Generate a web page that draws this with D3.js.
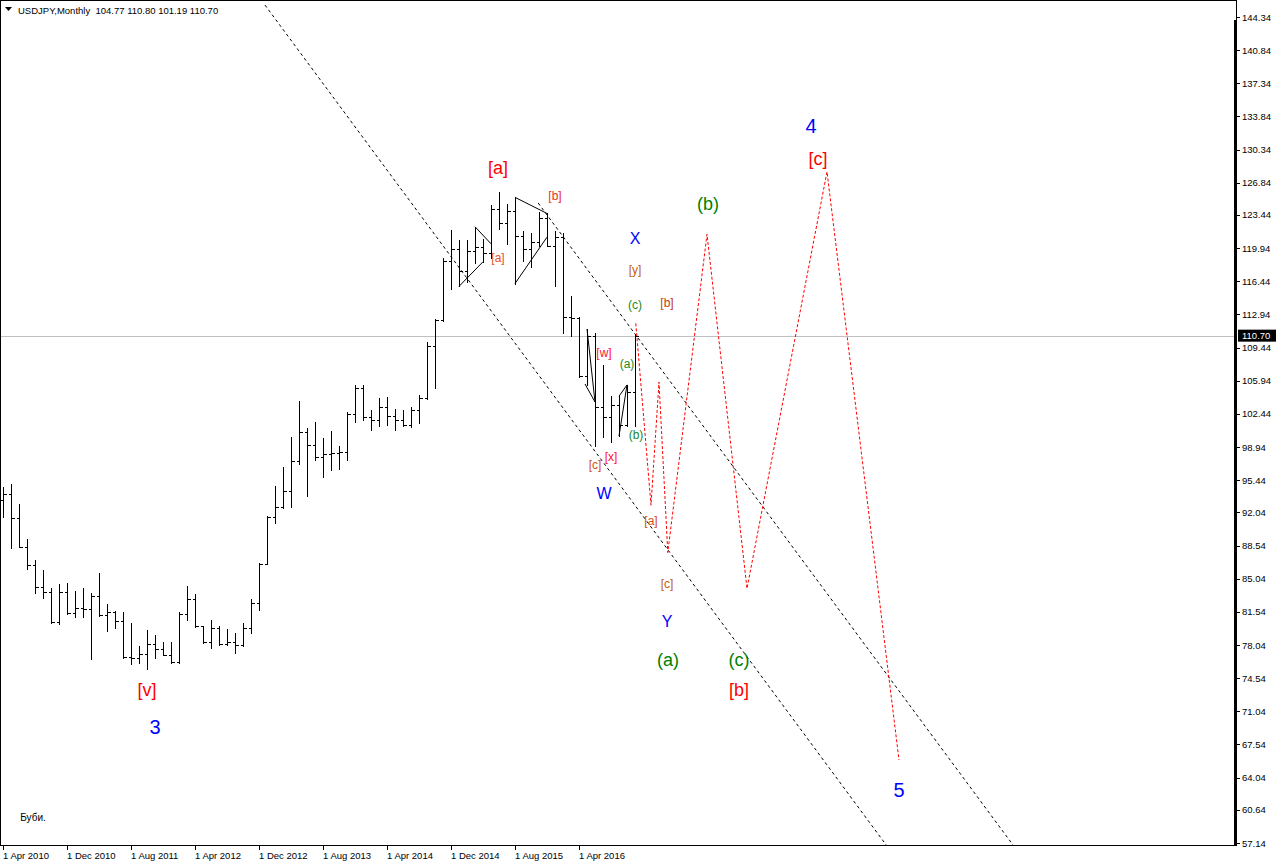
<!DOCTYPE html>
<html><head><meta charset="utf-8">
<script src="https://cdn.jsdelivr.net/npm/d3@7/dist/d3.min.js"></script>
<style>body{margin:0;background:#fff;overflow:hidden}</style>
</head><body><svg id="c" width="1276" height="866"></svg>
<script>
// ---- data (month index 0 = Apr 2010) ----
const symbol = "USDJPY,Monthly";
const headerValues = ["104.77", "110.80", "101.19", "110.70"];
const barOpen = [93.4,94.0,91.4,88.4,86.5,84.2,83.6,80.5,83.6,81.4,82.0,81.8,83.2,81.2,81.5,80.6,76.8,76.7,77.1,78.2,77.6,77.0,76.2,81.3,82.9,80.0,78.4,79.8,78.1,78.4,78.0,79.8,82.5,86.6,91.6,92.6,94.3,97.5,100.5,99.2,97.9,98.2,98.3,98.4,102.4,105.2,102.1,101.8,103.2,102.2,101.8,101.3,102.8,104.1,109.6,112.3,118.6,119.8,117.5,119.6,120.1,119.4,124.1,122.6,123.9,121.2,119.9,120.6,123.1,120.2,121.1,112.7,112.6,106.4,110.7,103.2,102.1,103.4,101.3,104.77];
const barHigh = [94.7,95.0,92.9,89.2,87.0,86.0,84.1,84.5,84.6,83.7,84.1,83.5,85.6,82.4,81.6,81.5,80.4,77.9,79.6,79.1,78.4,78.4,81.5,84.3,83.4,80.0,80.7,80.0,79.7,79.3,80.4,82.9,86.7,91.7,94.8,96.8,100.0,103.8,100.9,101.6,99.9,100.6,99.0,102.6,105.5,105.5,102.9,104.1,104.2,103.0,102.9,103.2,104.4,110.0,112.5,118.9,121.9,120.8,120.8,122.2,120.9,124.5,125.9,124.6,125.3,121.7,121.5,123.8,123.6,121.7,121.5,114.9,112.7,111.4,111.0,107.6,104.3,104.3,105.5,110.80];
const barLow = [91.6,88.3,88.4,86.1,83.5,83.0,80.4,80.3,81.3,81.0,81.0,76.6,81.1,79.5,79.8,76.7,76.0,76.1,75.5,76.7,77.0,76.1,76.1,80.7,79.9,78.3,77.7,78.0,78.0,77.2,77.9,79.3,81.7,86.6,90.9,92.5,92.6,97.2,93.8,97.6,95.8,96.5,96.6,97.6,101.6,101.8,100.7,101.2,101.3,100.7,101.2,101.1,101.5,104.0,105.2,112.2,115.6,115.9,116.4,118.4,118.5,118.9,122.0,120.4,116.2,118.6,118.0,120.2,120.2,115.9,111.0,110.7,106.3,105.5,99.0,100.0,99.5,100.1,101.2,101.19];
const barClose = [94.0,91.4,88.4,86.5,84.2,83.6,80.5,83.6,81.4,82.0,81.8,83.2,81.2,81.5,80.6,76.8,76.7,77.1,78.2,77.6,77.0,76.2,81.3,82.9,80.0,78.4,79.8,78.1,78.4,78.0,79.8,82.5,86.6,91.6,92.6,94.3,97.5,100.5,99.2,97.9,98.2,98.3,98.4,102.4,105.2,102.1,101.8,103.2,102.2,101.8,101.3,102.8,104.1,109.6,112.3,118.6,119.8,117.5,119.6,120.1,119.4,124.1,122.6,123.9,121.2,119.9,120.6,123.1,120.2,121.1,112.7,112.6,106.4,110.7,103.2,102.1,103.4,101.3,104.8,110.70];
const currentPrice = 110.70;
const priceTicks = [144.34,140.84,137.34,133.84,130.34,126.84,123.44,119.94,116.44,112.94,109.44,105.94,102.44,98.94,95.44,92.04,88.54,85.04,81.54,78.04,74.54,71.04,67.54,64.04,60.64,57.14];
const timeTickLabels = ["1 Apr 2010","1 Dec 2010","1 Aug 2011","1 Apr 2012","1 Dec 2012","1 Aug 2013","1 Apr 2014","1 Dec 2014","1 Aug 2015","1 Apr 2016"];
const timeTickIndex = [0,8,16,24,32,40,48,56,64,72];
// channel (dashed black) lines: [index, price] pairs
const channelLines = [
  [[32.75,145.6],[110.4,56.93]],
  [[66.9,124.7],[126.25,56.93]]
];
// solid black markup segments
const markupLines = [
  [[57,115.9],[60,118.5]],
  [[59,122.2],[61,120.4]],
  [[64,125.3],[68,123.6]],
  [[64,116.2],[68,121.1]],
  [[73,111.4],[74,103.7]],
  [[72.75,105.6],[74,103.7]],
  [[77,104.3],[78,105.5]],
  [[77,100.1],[78,105.5]]
];
// projected path (red dashed)
const projection = [[79.1,112.0],[81,92.8],[82,105.8],[83.1,87.8],[88,121.4],[93,84.0],[103,128.0],[112,65.9]];
// wave labels: text, index, price, size, colour
const waveText  = ["[a]","[b]","[a]","X","[y]","(c)","[b]","[w]","(a)","(b)","[c]","[x]","W","[a]","[c]","Y","(a)","(c)","[b]","(b)","4","[c]","5","[v]","3"];
const waveIndex = [61.875,69,61.875,79,79,79,83,75.125,78,79.125,74,76,75.125,81,83,83,83.125,92,92,88.125,101,101.875,112,18,19];
const wavePrice = [128.4,125.45,118.9,121.0,117.6,113.9,114.15,108.9,107.7,100.2,97.05,97.9,94.0,91.15,84.5,80.5,76.45,76.45,73.3,124.6,132.85,129.35,62.75,73.3,69.4];
const waveSize  = [18,12,12,16,12,12,12,12,12,12,12,12,16,12,12,16,18,18,18,18,20,18,20,18,20];
const waveColor = ["#ff0000","#e8301c","#e8501c","#0000ff","#c06010","#1a8a1a","#c04010","#ff1030","#1a8a1a","#1a8a1a","#d05010","#ff1030","#0000ff","#d05010","#c06010","#0000ff","#008000","#008000","#ff0000","#008000","#0000ff","#ff0000","#0000ff","#ff0000","#0000ff"];
const noteText = "Буби.";
const notePos = [3.75, 59.8];

// ---- drawing ----
const plotR = 1236, plotB = 845;
const svg = d3.select("#c");
const font = "'Liberation Sans', Arial, sans-serif";
const fs = "9.5px";
const x = d3.scaleLinear().domain([0, 1]).range([3, 11]);
const y = d3.scaleLinear().domain([57.14, 144.34]).range([843, 17]);

svg.append("defs").append("clipPath").attr("id","clip")
  .append("rect").attr("x",0).attr("y",0).attr("width",plotR).attr("height",plotB);
const plot = svg.append("g").attr("clip-path","url(#clip)");

// current price line
plot.append("line").attr("x1",0).attr("x2",plotR)
  .attr("y1",Math.round(y(currentPrice))+0.5).attr("y2",Math.round(y(currentPrice))+0.5)
  .attr("stroke","#c0c0c0").attr("stroke-width",1);

// channel lines
const line = d3.line().x(d => x(d[0])).y(d => y(d[1]));
plot.selectAll("path.chan").data(channelLines).join("path").attr("class","chan")
  .attr("d", line).attr("fill","none").attr("stroke","#000").attr("stroke-width",1)
  .attr("stroke-dasharray","3,3");

// bars
const idx = d3.range(barOpen.length);
const px = i => Math.round(x(i)) + 0.5;
const py = v => Math.round(y(v)) + 0.5;
const bars = plot.append("g").attr("stroke","#000").attr("stroke-width",1).attr("shape-rendering","crispEdges");
bars.selectAll("line.hl").data(idx).join("line").attr("class","hl")
  .attr("x1", px).attr("x2", px)
  .attr("y1", i => Math.round(y(barHigh[i]))).attr("y2", i => Math.round(y(barLow[i]))+1);
bars.selectAll("line.op").data(idx).join("line").attr("class","op")
  .attr("x1", i => px(i)-3).attr("x2", i => px(i))
  .attr("y1", i => py(barOpen[i])).attr("y2", i => py(barOpen[i]));
bars.selectAll("line.cl").data(idx).join("line").attr("class","cl")
  .attr("x1", i => px(i)).attr("x2", i => px(i)+3)
  .attr("y1", i => py(barClose[i])).attr("y2", i => py(barClose[i]));

// markup segments
plot.selectAll("path.mk").data(markupLines).join("path").attr("class","mk")
  .attr("d", line).attr("fill","none").attr("stroke","#000").attr("stroke-width",1);

// projection
plot.append("path").datum(projection).attr("d", line).attr("fill","none")
  .attr("stroke","#ff0000").attr("stroke-width",1).attr("stroke-dasharray","3,2");

// wave labels
plot.selectAll("text.wv").data(waveText).join("text").attr("class","wv")
  .attr("x", (d,i) => x(waveIndex[i])).attr("y", (d,i) => y(wavePrice[i]))
  .attr("text-anchor","middle").attr("dominant-baseline","central")
  .attr("font-family", font).attr("font-size", (d,i) => waveSize[i]+"px")
  .attr("fill", (d,i) => waveColor[i]).text(d => d);

plot.append("text").attr("x", x(notePos[0])).attr("y", y(notePos[1]))
  .attr("text-anchor","middle").attr("dominant-baseline","central")
  .attr("font-family", font).attr("font-size","10px").attr("fill","#000").text(noteText);

// frame
svg.append("rect").attr("x",0.5).attr("y",0.5).attr("width",plotR).attr("height",plotB)
  .attr("fill","none").attr("stroke","#000").attr("stroke-width",1);
svg.append("rect").attr("x",plotR-2).attr("y",20).attr("width",3).attr("height",plotB-20).attr("fill","#000");

// header
svg.append("path").attr("d","M5,7 L12,7 L8.5,11 Z").attr("fill","#000");
svg.append("text").attr("x",18).attr("y",14).attr("font-family",font).attr("font-size",fs)
  .attr("fill","#000").attr("xml:space","preserve").text(symbol + "  " + headerValues.join(" "));

// price axis
const pAx = svg.append("g");
pAx.selectAll("line").data(priceTicks).join("line")
  .attr("x1", plotR+1).attr("x2", plotR+4)
  .attr("y1", d => py(d)).attr("y2", d => py(d)).attr("stroke","#000");
pAx.selectAll("text").data(priceTicks).join("text")
  .attr("x", 1242).attr("y", d => y(d)).attr("dominant-baseline","central")
  .attr("font-family",font).attr("font-size",fs).attr("fill","#000")
  .text(d => d.toFixed(2));
// current price tag
const cy = y(currentPrice);
svg.append("rect").attr("x",1238).attr("y",cy-6).attr("width",38).attr("height",12).attr("fill","#000");
svg.append("text").attr("x",1242).attr("y",cy).attr("dominant-baseline","central")
  .attr("font-family",font).attr("font-size",fs).attr("fill","#fff").text(currentPrice.toFixed(2));

// time axis
const tAx = svg.append("g");
tAx.selectAll("line").data(timeTickIndex).join("line")
  .attr("x1", px).attr("x2", px).attr("y1", plotB+1).attr("y2", plotB+5).attr("stroke","#000");
tAx.selectAll("text").data(timeTickLabels).join("text")
  .attr("x", (d,i) => x(timeTickIndex[i])).attr("y", 859)
  .attr("font-family",font).attr("font-size",fs).attr("fill","#000").text(d => d);
</script></body></html>
